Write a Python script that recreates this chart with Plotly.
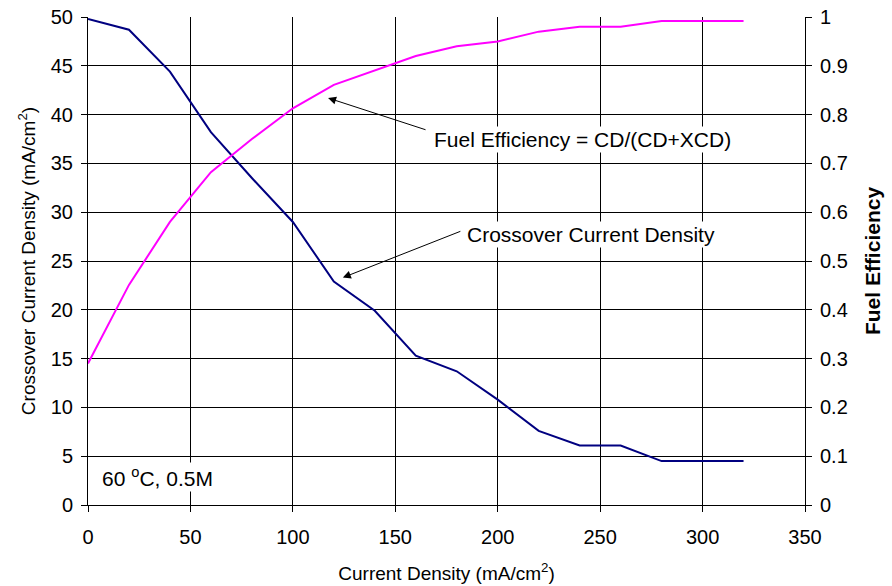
import plotly.graph_objects as go

current_density = [0, 20, 40, 60, 80, 100, 120, 140, 160, 180, 200, 220, 240, 260, 280, 300, 320]
crossover_cd = [49.8, 48.7, 44.4, 38.2, 33.5, 29.0, 22.9, 19.9, 15.3, 13.7, 10.8, 7.6, 6.1, 6.1, 4.5, 4.5, 4.5]
fuel_eff = [0.29, 0.451, 0.58, 0.682, 0.75, 0.813, 0.861, 0.89, 0.92, 0.94, 0.95, 0.97, 0.98, 0.98, 0.992, 0.992, 0.992]

FONT = "Liberation Sans, Arial, sans-serif"
fig = go.Figure()
fig.add_trace(go.Scatter(x=current_density, y=crossover_cd, mode="lines",
                         line=dict(color="#000080", width=2), name="Crossover Current Density"))
fig.add_trace(go.Scatter(x=current_density, y=fuel_eff, mode="lines", yaxis="y2",
                         line=dict(color="#FF00FF", width=2), name="Fuel Efficiency"))

axis_common = dict(showline=True, linecolor="black", linewidth=1, ticks="outside",
                   ticklen=6, tickcolor="black", zeroline=False, automargin=False,
                   tickfont=dict(family=FONT, size=20, color="black"))
fig.update_layout(
    width=892, height=586, paper_bgcolor="white", plot_bgcolor="white",
    margin=dict(l=88, r=87, t=17, b=81), showlegend=False,
    font=dict(family=FONT, size=20, color="black"),
    xaxis=dict(range=[0, 350], dtick=50, tick0=0, showgrid=True, gridcolor="black", gridwidth=1,
               ticklabelstandoff=8,
               title=dict(text="Current Density (mA/cm<sup>2</sup>)", font=dict(size=19), standoff=19),
               **axis_common),
    yaxis=dict(range=[0, 50], dtick=5, showgrid=True, gridcolor="black", gridwidth=1,
               ticklabelstandoff=4,
               title=dict(text="Crossover Current Density (mA/cm<sup>2</sup>)", font=dict(size=19), standoff=10),
               **axis_common),
    yaxis2=dict(range=[0, 1], dtick=0.1, overlaying="y", side="right", showgrid=False,
                ticklabelstandoff=4,
                title=dict(text="<b>Fuel Efficiency</b>", font=dict(size=21), standoff=18),
                **axis_common),
)

ann_font = dict(family=FONT, size=21, color="black")
# Arrows
fig.add_annotation(x=117.2, y=41.7, ax=165.5, ay=38.4, axref="x", ayref="y", xref="x", yref="y",
                   text="", showarrow=True, arrowhead=2, arrowsize=1.6, arrowwidth=1, arrowcolor="black")
fig.add_annotation(x=124.4, y=23.3, ax=182.5, ay=28.1, axref="x", ayref="y", xref="x", yref="y",
                   text="", showarrow=True, arrowhead=2, arrowsize=1.6, arrowwidth=1, arrowcolor="black")
# Texts
fig.add_annotation(x=167.9, y=37.5, xref="x", yref="y", xanchor="left", yanchor="middle",
                   text="Fuel Efficiency = CD/(CD+XCD)", showarrow=False, font=ann_font, bgcolor="white")
fig.add_annotation(x=184, y=27.7, xref="x", yref="y", xanchor="left", yanchor="middle",
                   text="Crossover Current Density", showarrow=False, font=ann_font, bgcolor="white")
fig.add_annotation(x=6, y=2.9, xref="x", yref="y", xanchor="left", yanchor="middle",
                   text="60 <sup>o</sup>C, 0.5M", showarrow=False, font=ann_font, bgcolor="white")

fig.write_html("out.html")
